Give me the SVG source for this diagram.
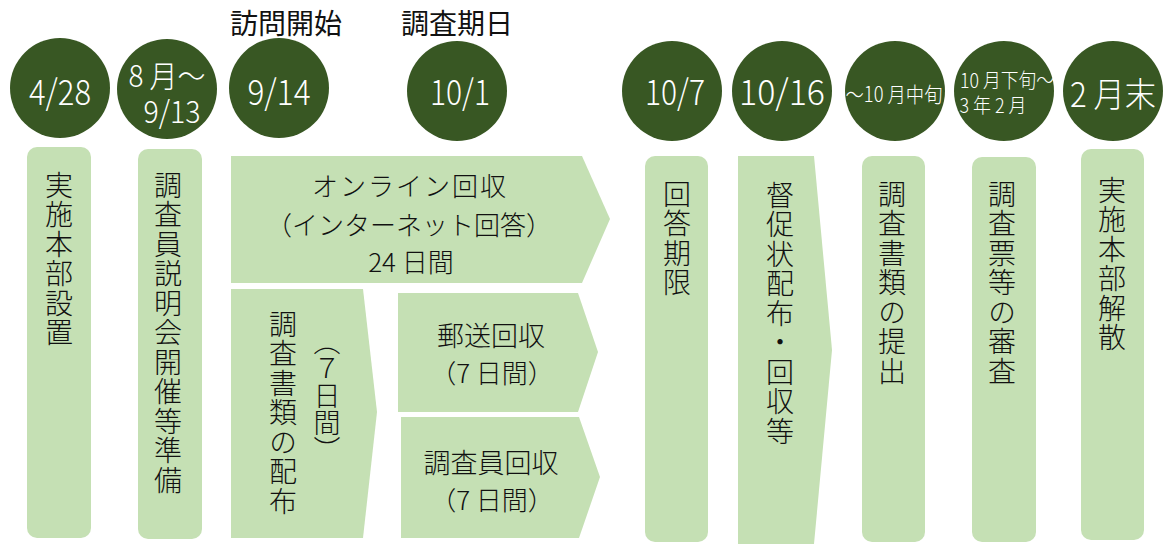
<svg xmlns="http://www.w3.org/2000/svg" width="1164" height="544" viewBox="0 0 1164 544">
<style>
.c{fill:#385723}
.b{fill:#c5e0b4}
.ct{fill:#fff;font-family:"Noto Sans CJK JP",sans-serif;font-weight:300;text-anchor:middle}
.t{fill:#111;font-family:"Noto Sans CJK JP",sans-serif;font-weight:300}
.h{text-anchor:middle}
.v{writing-mode:vertical-rl;font-size:28px;letter-spacing:1.5px}
.lbl{fill:#111;font-family:"Noto Sans CJK JP",sans-serif;font-size:28px;text-anchor:middle}
</style>
<rect width="1164" height="544" fill="#fff"/>
<text class="lbl" x="286" y="34">訪問開始</text>
<text class="lbl" x="457" y="34">調査期日</text>

<g id="d1"><circle class="c" cx="60" cy="88" r="50"/><text class="ct" x="60" y="105" font-size="35" textLength="62" lengthAdjust="spacingAndGlyphs">4/28</text></g>
<g id="d2"><circle class="c" cx="167" cy="89" r="50"/><text class="ct" x="167" y="87" font-size="30" textLength="77" lengthAdjust="spacingAndGlyphs">8 月～</text><text class="ct" x="172" y="123" font-size="31" textLength="57" lengthAdjust="spacingAndGlyphs">9/13</text></g>
<g id="d3"><circle class="c" cx="279" cy="88" r="50"/><text class="ct" x="279" y="105" font-size="35" textLength="63" lengthAdjust="spacingAndGlyphs">9/14</text></g>
<g id="d4"><circle class="c" cx="457" cy="91" r="50"/><text class="ct" x="460" y="105" font-size="35" textLength="60" lengthAdjust="spacingAndGlyphs">10/1</text></g>
<g id="d5"><circle class="c" cx="672" cy="91" r="50"/><text class="ct" x="675" y="105" font-size="35" textLength="60" lengthAdjust="spacingAndGlyphs">10/7</text></g>
<g id="d6"><circle class="c" cx="782" cy="91" r="50"/><text class="ct" x="782" y="105" font-size="35" textLength="86" lengthAdjust="spacingAndGlyphs">10/16</text></g>
<g id="d7"><circle class="c" cx="895" cy="91" r="50"/><text class="ct" x="894" y="102" font-size="21" textLength="97" lengthAdjust="spacingAndGlyphs">～10 月中旬</text></g>
<g id="d8"><circle class="c" cx="1004" cy="91" r="50"/><text class="ct" x="1007" y="88" font-size="20" textLength="94" lengthAdjust="spacingAndGlyphs">10 月下旬～</text><text class="ct" x="993" y="113" font-size="20" textLength="67" lengthAdjust="spacingAndGlyphs">3 年 2 月</text></g>
<g id="d9"><circle class="c" cx="1113" cy="91" r="50"/><text class="ct" x="1113" y="107" font-size="34" textLength="86" lengthAdjust="spacingAndGlyphs">2 月末</text></g>

<g id="n1"><rect class="b" x="27" y="147" width="64" height="391" rx="10"/><text class="t v" x="59" y="171">実施本部設置</text></g>
<g id="n2"><rect class="b" x="138" y="149" width="64" height="390" rx="10"/><text class="t v" x="168" y="171">調査員説明会開催等準備</text></g>
<g id="n3"><polygon class="b" points="231,156 582,156 610,219 582,283 231,283"/>
<text class="t h" x="410" y="196" font-size="26" letter-spacing="2">オンライン回収</text>
<text class="t h" x="409" y="235" font-size="26">（インターネット回答）</text>
<text class="t h" x="411" y="272" font-size="26">24 日間</text></g>
<g id="n4"><polygon class="b" points="231,289 363,289 377,412 363,538 231,538"/>
<text class="t v" x="283" y="310">調査書類の配布</text>
<text class="t v" x="327" y="328" style="font-size:27px;letter-spacing:0">（７日間）</text></g>
<g id="n5"><polygon class="b" points="398,293 578,293 598,352 578,412 398,412"/>
<text class="t h" x="491" y="346" font-size="27">郵送回収</text>
<text class="t h" x="492" y="383" font-size="26">（7 日間）</text></g>
<g id="n6"><polygon class="b" points="401,417 579,417 600,477 579,538 401,538"/>
<text class="t h" x="491" y="473" font-size="27">調査員回収</text>
<text class="t h" x="492" y="510" font-size="26">（7 日間）</text></g>
<g id="n7"><rect class="b" x="645" y="156" width="63" height="386" rx="10"/><text class="t v" x="677" y="180">回答期限</text></g>
<g id="n8"><polygon class="b" points="738,156 814,156 832,350 814,544 738,544"/><text class="t v" x="780" y="181">督促状配布・回収等</text></g>
<g id="n9"><rect class="b" x="862" y="156" width="63" height="386" rx="10"/><text class="t v" x="892" y="180">調査書類の提出</text></g>
<g id="n10"><rect class="b" x="972" y="157" width="64" height="385" rx="10"/><text class="t v" x="1002" y="180">調査票等の審査</text></g>
<g id="n11"><rect class="b" x="1081" y="149" width="63" height="391" rx="10"/><text class="t v" x="1112" y="176">実施本部解散</text></g>
<g id="connectors"/>
</svg>
